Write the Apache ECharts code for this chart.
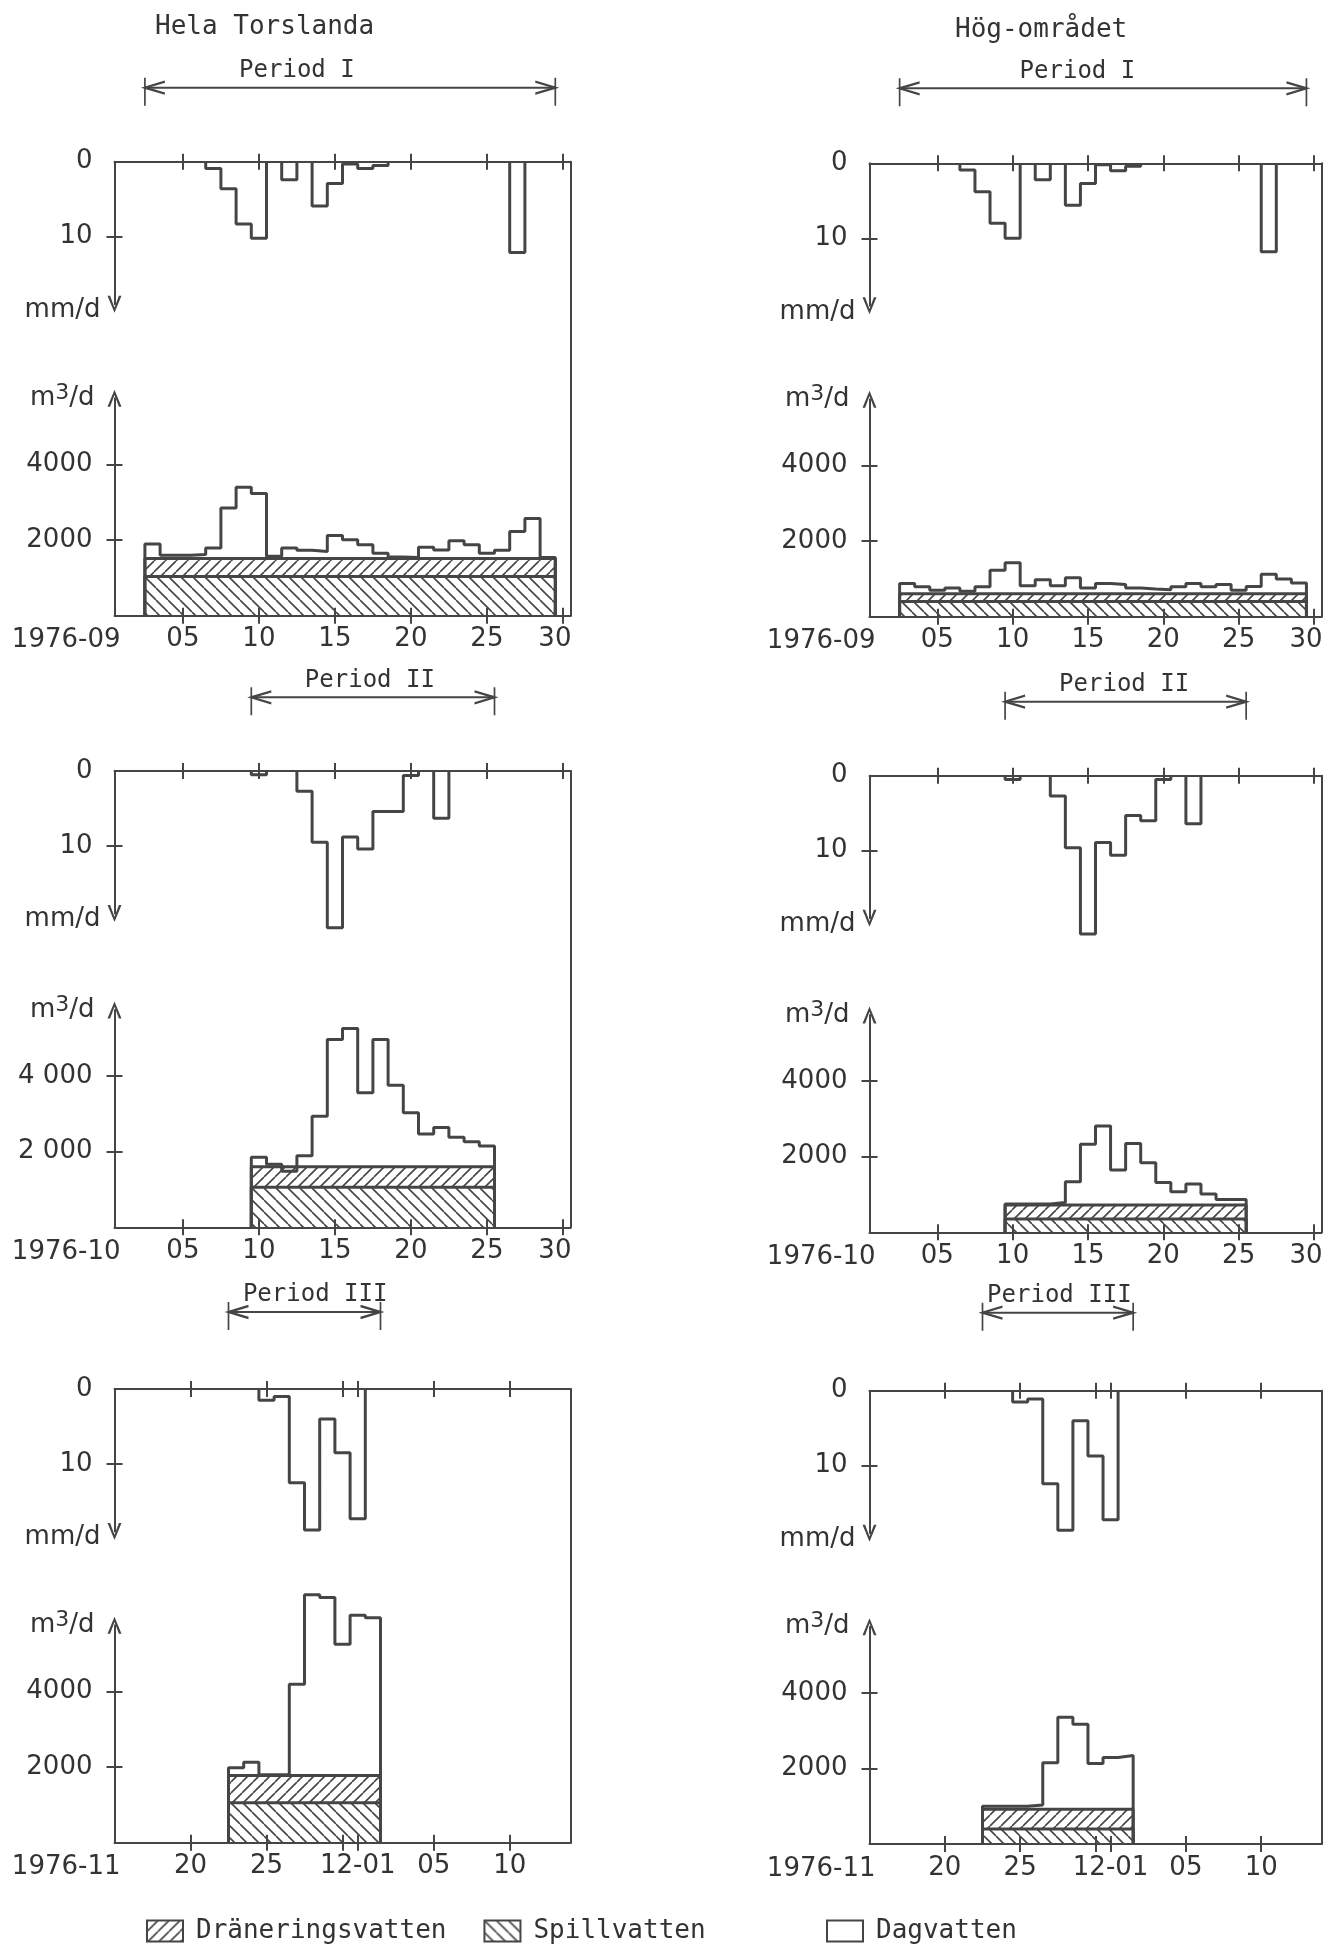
<!DOCTYPE html>
<html><head><meta charset="utf-8">
<script src="https://cdn.jsdelivr.net/npm/echarts@6/dist/echarts.min.js"></script>
<style>html,body{margin:0;padding:0;background:#fff}#c{width:1325px;height:1944px}</style>
</head><body><div id="c"></div>
<script>
// ================= DATA =================
const monthLabels = ['1976-09', '1976-10', '1976-11'];
const sepTickDays = [5, 10, 15, 20, 25, 30];
const sepTickLabels = ['05', '10', '15', '20', '25', '30'];
const octTickDays = [5, 10, 15, 20, 25, 30];
const octTickLabels = ['05', '10', '15', '20', '25', '30'];
// November axis: day counted from 1 Nov (31 = 1 Dec)
const novTickDays = [20, 25, 30, 31, 36, 41];
const novLabelDays = [20, 25, 31, 36, 41];
const novTickLabels = ['20', '25', '12-01', '05', '10'];

const rainTickValues = [10];
const rainLabelValues = [0, 10];
const flowTickValues = [2000, 4000];

const periodNames = ['Period I', 'Period II', 'Period III'];
const periodFirstDay = [3, 10, 23];
const periodLastDay = [29, 25, 32];

const seriesNames = ['Dräneringsvatten', 'Spillvatten', 'Dagvatten'];

// ---- Hela Torslanda ----
const helaSepRainDays = [7, 8, 9, 10, 12, 14, 15, 16, 17, 18, 27];
const helaSepRain = [0.9, 3.6, 8.3, 10.2, 2.4, 5.9, 2.9, 0.3, 0.9, 0.5, 12.1];
const helaSepFlow = [1900, 1600, 1600, 1620, 1790, 2850, 3400, 3230, 1570, 1790, 1730, 1700, 2120, 2010, 1880, 1650, 1550, 1540, 1810, 1740, 1980, 1880, 1650, 1730, 2230, 2570, 1540];
const helaSepSpill = 1040;
const helaSepDrain = 470;

const helaOctRainDays = [10, 13, 14, 15, 16, 17, 18, 19, 20, 22];
const helaOctRain = [0.5, 2.7, 9.5, 20.9, 8.8, 10.4, 5.4, 5.4, 0.6, 6.3];
const helaOctFlow = [1850, 1670, 1480, 1890, 2940, 4970, 5260, 3560, 4970, 3760, 3030, 2470, 2640, 2380, 2260, 2150];
const helaOctSpill = 1060;
const helaOctDrain = 540;

const helaNovRainDays = [25, 26, 27, 28, 29, 30, 31];
const helaNovRain = [1.5, 1.0, 12.5, 18.8, 4.0, 8.5, 17.3];
const helaNovFlow = [1980, 2130, 1800, 1800, 4190, 6560, 6490, 5250, 6020, 5950];
const helaNovSpill = 1060;
const helaNovDrain = 720;

// ---- Hög-området ----
const hogSepRainDays = [7, 8, 9, 10, 12, 14, 15, 16, 17, 18, 27];
const hogSepRain = [0.9, 3.8, 8.0, 10.0, 2.2, 5.6, 2.7, 0.2, 1.0, 0.4, 11.8];
const hogSepFlow = [880, 790, 700, 760, 670, 790, 1230, 1430, 820, 980, 820, 1030, 760, 880, 850, 760, 730, 710, 790, 880, 790, 850, 700, 800, 1120, 1000, 890];
const hogSepSpill = 400;
const hogSepDrain = 210;

const hogOctRainDays = [10, 13, 14, 15, 16, 17, 18, 19, 20, 22];
const hogOctRain = [0.5, 2.7, 9.6, 21.1, 8.9, 10.6, 5.3, 6.0, 0.5, 6.4];
const hogOctFlow = [750, 750, 750, 790, 1340, 2330, 2810, 1650, 2350, 1840, 1320, 1070, 1280, 1010, 870, 870];
const hogOctSpill = 350;
const hogOctDrain = 370;

const hogNovRainDays = [25, 26, 27, 28, 29, 30, 31];
const hogNovRain = [1.5, 1.1, 12.4, 18.6, 4.0, 8.7, 17.2];
const hogNovFlow = [1000, 1000, 1000, 1030, 2150, 3350, 3170, 2130, 2290, 2340];
const hogNovSpill = 400;
const hogNovDrain = 520;

// ================= LAYOUT / STYLE =================
const FONT_NUM = 'DejaVu Sans';
const FONT_MONO = 'DejaVu Sans Mono';
const INK = '#454545';
const TXT = '#333333';
const RAIN_MAX = 19, RAIN_PX = 7.5;        // px per mm
const FLOW_MAX = 5750, FLOW_PX = 0.0378;   // px per m3/d
const ARROW = 'path://M7,0 L14,17 L11.4,17 L7,5.2 L2.6,17 L0,17 Z';
const END_L = 'path://M0,-10 L0,18 M20,-6 L0,0 L20,6';
const END_R = 'path://M0,-10 L0,18 M-20,-6 L0,0 L-20,6';

const cols = [{ left: 114.5, width: 456 }, { left: 869.5, width: 452 }];
const monthAxes = [
  { min: 0.5, max: 30.5, ticks: sepTickDays, labelVals: sepTickDays, labels: sepTickLabels, shiftLast: true },
  { min: 0.5, max: 30.5, ticks: octTickDays, labelVals: octTickDays, labels: octTickLabels, shiftLast: true },
  { min: 15, max: 45, ticks: novTickDays, labelVals: novLabelDays, labels: novTickLabels, shiftLast: false }
];
const layout = [
  { col: 0, month: 0, rainTop: 161.7, flowBase: 615.7, periodY: 87.7, periodLabelAt: 12.5 },
  { col: 0, month: 1, rainTop: 771.0, flowBase: 1227.3, periodY: 697.3, periodLabelAt: 17.3 },
  { col: 0, month: 2, rainTop: 1389.0, flowBase: 1842.7, periodY: 1312.0, periodLabelAt: 28.2 },
  { col: 1, month: 0, rainTop: 163.3, flowBase: 616.7, periodY: 88.3, periodLabelAt: 14.3 },
  { col: 1, month: 1, rainTop: 775.7, flowBase: 1232.3, periodY: 701.7, periodLabelAt: 17.4 },
  { col: 1, month: 2, rainTop: 1390.7, flowBase: 1844.0, periodY: 1312.7, periodLabelAt: 27.6 }
];
const panelData = [
  { rainDays: helaSepRainDays, rain: helaSepRain, flow: helaSepFlow, spill: helaSepSpill, drain: helaSepDrain, flowLabels: ['2000', '4000'] },
  { rainDays: helaOctRainDays, rain: helaOctRain, flow: helaOctFlow, spill: helaOctSpill, drain: helaOctDrain, flowLabels: ['2 000', '4 000'] },
  { rainDays: helaNovRainDays, rain: helaNovRain, flow: helaNovFlow, spill: helaNovSpill, drain: helaNovDrain, flowLabels: ['2000', '4000'] },
  { rainDays: hogSepRainDays, rain: hogSepRain, flow: hogSepFlow, spill: hogSepSpill, drain: hogSepDrain, flowLabels: ['2000', '4000'] },
  { rainDays: hogOctRainDays, rain: hogOctRain, flow: hogOctFlow, spill: hogOctSpill, drain: hogOctDrain, flowLabels: ['2000', '4000'] },
  { rainDays: hogNovRainDays, rain: hogNovRain, flow: hogNovFlow, spill: hogNovSpill, drain: hogNovDrain, flowLabels: ['2000', '4000'] }
];

// ================= HELPERS =================
function hatch(forward, s) {
  const c = document.createElement('canvas');
  c.width = s; c.height = s;
  const g = c.getContext('2d');
  g.fillStyle = '#fff'; g.fillRect(0, 0, s, s);
  g.strokeStyle = INK; g.lineWidth = 1.6; g.beginPath();
  for (const k of [-1, 0, 1]) {
    if (forward) { g.moveTo(k * s, s); g.lineTo(k * s + s, 0); }
    else { g.moveTo(k * s, 0); g.lineTo(k * s + s, s); }
  }
  g.stroke();
  return c;
}
const hatchFwd = { image: hatch(true, 11), repeat: 'repeat' };
const hatchBack = { image: hatch(false, 12), repeat: 'repeat' };

function stepPoints(firstDay, values) {
  const pts = [[firstDay - 0.5, 0]];
  values.forEach((v, i) => { const d = firstDay + i; pts.push([d - 0.5, v], [d + 0.5, v]); });
  pts.push([firstDay + values.length - 0.5, 0]);
  return pts;
}
function rainPoints(days, vals) {
  const out = []; let i = 0;
  while (i < days.length) {
    let j = i;
    while (j + 1 < days.length && days[j + 1] === days[j] + 1) j++;
    if (out.length) out.push([days[i] - 0.5, '-']);
    out.push(...stepPoints(days[i], vals.slice(i, j + 1)));
    i = j + 1;
  }
  return out;
}
function fmtFrom(vals, labels, shiftLast) {
  return function (v) {
    const i = vals.findIndex(x => Math.abs(x - v) < 1e-6);
    if (i < 0) return '';
    if (shiftLast && i === vals.length - 1) return '{r|' + labels[i] + '}';
    return labels[i];
  };
}
const ls = (w) => ({ color: INK, width: w });
const numText = { fontFamily: FONT_NUM, fontSize: 26, color: TXT };
const shiftRich = { r: { fontFamily: FONT_NUM, fontSize: 26, color: TXT, padding: [0, 16, 0, 0] } };
const m3Rich = {
  b: { fontFamily: FONT_NUM, fontSize: 26, color: TXT, lineHeight: 32 },
  s: { fontFamily: FONT_NUM, fontSize: 22, color: TXT, verticalAlign: 'top', lineHeight: 22 }
};

// ================= OPTION =================
const grid = [], xAxis = [], yAxis = [], series = [];

layout.forEach((p, idx) => {
  const d = panelData[idx];
  const col = cols[p.col];
  const m = monthAxes[p.month];
  const rainH = RAIN_MAX * RAIN_PX, flowH = FLOW_MAX * FLOW_PX;
  const pf = periodFirstDay[p.month], pl = periodLastDay[p.month];

  // ---- rain grid ----
  const gR = grid.length;
  grid.push({ left: col.left, width: col.width, top: p.rainTop, height: rainH, outerBoundsMode: 'none' });
  const xR = xAxis.length;
  xAxis.push({ gridIndex: gR, type: 'value', min: m.min, max: m.max, position: 'top', z: 5,
    axisLine: { show: true, onZero: false, lineStyle: ls(2) },
    axisTick: { show: true, customValues: m.ticks, length: 8, lineStyle: ls(2) },
    axisLabel: { show: false }, splitLine: { show: false } });
  xAxis.push({ gridIndex: gR, type: 'value', min: m.min, max: m.max, position: 'top', z: 5,
    axisLine: { show: false }, axisTick: { show: true, inside: true, customValues: m.ticks, length: 8, lineStyle: ls(2) },
    axisLabel: { show: false }, splitLine: { show: false } });
  const yR = yAxis.length;
  yAxis.push({ gridIndex: gR, type: 'value', inverse: true, min: 0, max: RAIN_MAX, position: 'left', z: 5,
    axisLine: { show: true, onZero: false, symbol: [ARROW, 'none'], symbolSize: [14, 17], lineStyle: ls(2) },
    axisTick: { show: true, customValues: rainTickValues, length: 8, lineStyle: ls(2) },
    axisLabel: Object.assign({ show: true, customValues: rainLabelValues, margin: 22 }, numText),
    splitLine: { show: false },
    name: 'mm/d', nameLocation: 'end', nameGap: 6, nameMoveOverlap: false,
    nameTextStyle: Object.assign({ align: 'right', verticalAlign: 'middle', padding: [0, 14, 0, 0] }, numText) });
  yAxis.push({ gridIndex: gR, type: 'value', inverse: true, min: 0, max: RAIN_MAX, position: 'left', z: 5,
    axisLine: { show: false }, axisTick: { show: true, inside: true, customValues: rainTickValues, length: 8, lineStyle: ls(2) },
    axisLabel: { show: false }, splitLine: { show: false } });

  // ---- flow grid ----
  const gF = grid.length;
  grid.push({ left: col.left, width: col.width, top: p.flowBase - flowH, height: flowH, outerBoundsMode: 'none' });
  const xF = xAxis.length;
  xAxis.push({ gridIndex: gF, type: 'value', min: m.min, max: m.max, position: 'bottom', z: 5,
    axisLine: { show: true, onZero: false, lineStyle: ls(2) },
    axisTick: { show: true, customValues: m.ticks, length: 8, lineStyle: ls(2) },
    axisLabel: Object.assign({ show: true, customValues: m.labelVals, formatter: fmtFrom(m.labelVals, m.labels, m.shiftLast), margin: 11, rich: shiftRich }, numText),
    splitLine: { show: false },
    name: monthLabels[p.month], nameLocation: 'start', nameGap: -6, nameMoveOverlap: false,
    nameTextStyle: Object.assign({ align: 'right', verticalAlign: 'top', padding: [12, 0, 0, 0] }, numText) });
  xAxis.push({ gridIndex: gF, type: 'value', min: m.min, max: m.max, position: 'bottom', z: 5,
    axisLine: { show: false }, axisTick: { show: true, inside: true, customValues: m.ticks, length: 8, lineStyle: ls(2) },
    axisLabel: { show: false }, splitLine: { show: false } });
  const yF = yAxis.length;
  yAxis.push({ gridIndex: gF, type: 'value', min: 0, max: FLOW_MAX, position: 'left', z: 5,
    axisLine: { show: true, onZero: false, symbol: ['none', ARROW], symbolSize: [14, 17], lineStyle: ls(2) },
    axisTick: { show: true, customValues: flowTickValues, length: 8, lineStyle: ls(2) },
    axisLabel: Object.assign({ show: true, customValues: flowTickValues, formatter: fmtFrom(flowTickValues, d.flowLabels, false), margin: 22 }, numText),
    splitLine: { show: false },
    name: '{b|m}{s|3}{b|/d}', nameLocation: 'end', nameGap: 0, nameMoveOverlap: false,
    nameTextStyle: Object.assign({ align: 'right', verticalAlign: 'middle', padding: [0, 20, 0, 0], rich: m3Rich }, numText) });
  yAxis.push({ gridIndex: gF, type: 'value', min: 0, max: FLOW_MAX, position: 'left', z: 5,
    axisLine: { show: false }, axisTick: { show: true, inside: true, customValues: flowTickValues, length: 8, lineStyle: ls(2) },
    axisLabel: { show: false }, splitLine: { show: false } });

  // ---- frame (right line) ----
  const gB = grid.length;
  grid.push({ left: col.left, width: col.width, top: p.rainTop, height: p.flowBase - p.rainTop, outerBoundsMode: 'none' });
  xAxis.push({ gridIndex: gB, type: 'value', show: false, min: 0, max: 1 });
  yAxis.push({ gridIndex: gB, type: 'value', min: 0, max: 1, position: 'right', z: 5,
    axisLine: { show: true, onZero: false, lineStyle: ls(2) }, axisTick: { show: false },
    axisLabel: { show: false }, splitLine: { show: false } });

  // ---- period arrow ----
  const gA = grid.length;
  grid.push({ left: col.left, width: col.width, top: p.periodY - 1, height: 2, outerBoundsMode: 'none' });
  const xA = xAxis.length;
  xAxis.push({ gridIndex: gA, type: 'value', show: false, min: m.min, max: m.max });
  const yA = yAxis.length;
  yAxis.push({ gridIndex: gA, type: 'value', show: false, min: -1, max: 1 });
  series.push({ type: 'line', xAxisIndex: xA, yAxisIndex: yA, clip: false, silent: true, z: 3,
    lineStyle: { color: INK, width: 2 },
    itemStyle: { color: 'rgba(0,0,0,0)', borderColor: INK, borderWidth: 2 },
    data: [
      { value: [pf - 0.5, 0], symbol: END_L, symbolSize: [20, 28], symbolOffset: [10, 4] },
      { value: [p.periodLabelAt, 0], symbol: 'circle', symbolSize: 2, itemStyle: { borderWidth: 0, color: 'rgba(0,0,0,0)' },
        label: { show: true, position: 'top', distance: 4, formatter: periodNames[p.month],
          fontFamily: FONT_MONO, fontSize: 24, color: TXT } },
      { value: [pl + 0.5, 0], symbol: END_R, symbolSize: [20, 28], symbolOffset: [-10, 4] }
    ] });

  // ---- rain series ----
  series.push({ type: 'line', xAxisIndex: xR, yAxisIndex: yR, clip: false, silent: true, z: 4,
    symbol: 'none', connectNulls: false, lineStyle: { color: INK, width: 3 },
    data: rainPoints(d.rainDays, d.rain) });

  // ---- flow series ----
  const n = d.flow.length;
  const drainTop = d.spill + d.drain;
  series.push({ name: seriesNames[0], type: 'line', xAxisIndex: xF, yAxisIndex: yF, clip: false, silent: true, z: 2,
    symbol: 'none', lineStyle: { color: INK, width: 3 }, areaStyle: { color: hatchFwd, opacity: 1 },
    data: [[pf - 0.5, 0], [pf - 0.5, drainTop], [pf + n - 0.5, drainTop], [pf + n - 0.5, 0]] });
  series.push({ name: seriesNames[1], type: 'line', xAxisIndex: xF, yAxisIndex: yF, clip: false, silent: true, z: 3,
    symbol: 'none', lineStyle: { color: INK, width: 3 }, areaStyle: { color: hatchBack, opacity: 1 },
    data: [[pf - 0.5, 0], [pf - 0.5, d.spill], [pf + n - 0.5, d.spill], [pf + n - 0.5, 0]] });
  series.push({ name: seriesNames[2], type: 'line', xAxisIndex: xF, yAxisIndex: yF, clip: false, silent: true, z: 4,
    symbol: 'none', lineStyle: { color: INK, width: 3 },
    data: stepPoints(pf, d.flow) });
});

const legendText = { fontFamily: FONT_MONO, fontSize: 26, color: TXT, padding: [0, 0, 0, 8] };
const option = {
  backgroundColor: '#ffffff',
  animation: false,
  textStyle: { fontFamily: FONT_NUM },
  title: [
    { text: 'Hela Torslanda', left: 155, top: 14, padding: 0,
      textStyle: { fontFamily: FONT_MONO, fontSize: 26, fontWeight: 'normal', color: TXT } },
    { text: 'Hög-området', left: 955, top: 17, padding: 0,
      textStyle: { fontFamily: FONT_MONO, fontSize: 26, fontWeight: 'normal', color: TXT } }
  ],
  legend: [
    { left: 146, top: 1918, padding: 0, itemWidth: 36, itemHeight: 21, itemGap: 37, selectedMode: false, textStyle: legendText,
      data: [
        { name: seriesNames[0], icon: 'rect', itemStyle: { color: hatchFwd, borderColor: INK, borderWidth: 2 } },
        { name: seriesNames[1], icon: 'rect', itemStyle: { color: hatchBack, borderColor: INK, borderWidth: 2 } }
      ] },
    { left: 826, top: 1918, padding: 0, itemWidth: 36, itemHeight: 21, selectedMode: false, textStyle: legendText,
      data: [{ name: seriesNames[2], icon: 'rect', itemStyle: { color: '#ffffff', borderColor: INK, borderWidth: 2 } }] }
  ],
  grid, xAxis, yAxis, series
};

const chart = echarts.init(document.getElementById('c'), null, { renderer: 'canvas' });
chart.setOption(option);
</script>
</body></html>
